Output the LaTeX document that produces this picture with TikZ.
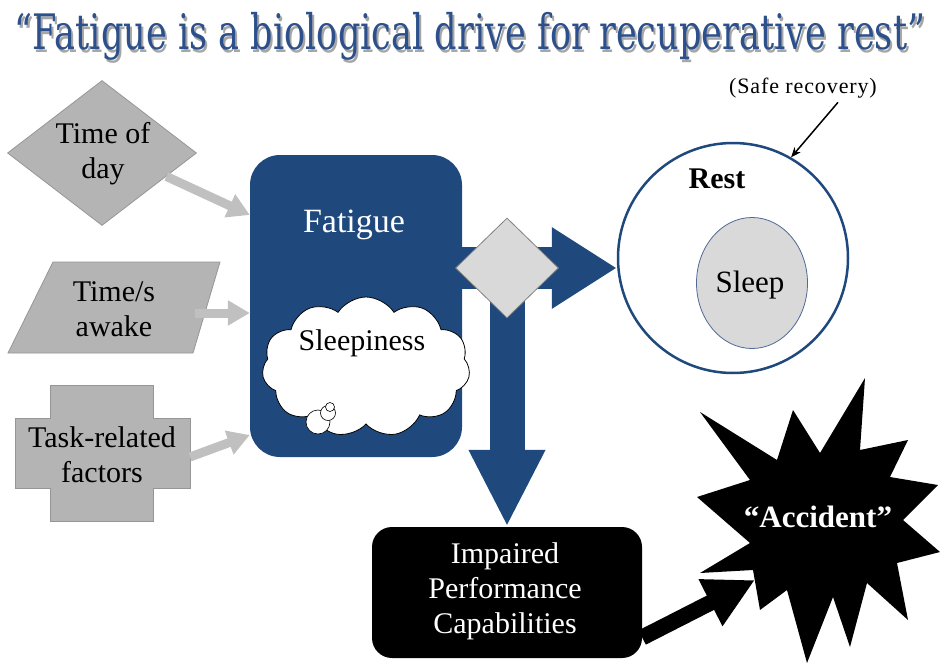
\documentclass[tikz,border=0pt]{standalone}
\usepackage{graphicx}
\usepackage{fontspec}
\setmainfont{Liberation Serif}
\newfontfamily\titlefont{DejaVu Serif}
\usetikzlibrary{shapes.geometric,shapes.symbols,arrows.meta,calc}
\definecolor{fatblue}{RGB}{31,73,125}
\definecolor{titleblue}{RGB}{44,80,140}
\definecolor{shapegray}{RGB}{180,180,180}
\definecolor{shapeedge}{RGB}{150,150,150}
\definecolor{arrowgray}{RGB}{192,192,192}
\definecolor{lightgray2}{RGB}{217,217,217}
\definecolor{sleepedge}{RGB}{80,105,150}
\begin{document}
\begin{tikzpicture}[x=1pt,y=-1pt,
  txt/.style={inner sep=0pt,align=center,font=\fontsize{30}{35}\selectfont},
  grayshape/.style={fill=shapegray,draw=shapeedge,line width=0.8pt},
  grayarrow/.style={draw=arrowgray,line width=9pt,-{Triangle[length=22pt,width=24pt]}},
  bluearrow/.style={draw=fatblue,-{Triangle[length=65pt,width=77pt]}},
]
\useasboundingbox (0,0) rectangle (940,669);

% title (with its grey drop shadow)
\node[inner sep=0pt] (titleshadow) at (472,39) {\resizebox*{910pt}{48pt}{\titlefont\color{black!35}“Fatigue is a biological drive for recuperative rest”}};
\node[inner sep=0pt] (title) at (470,36) {\resizebox*{910pt}{48pt}{\titlefont\color{titleblue}“Fatigue is a biological drive for recuperative rest”}};

% left inputs
\node[diamond,grayshape,minimum width=189pt,minimum height=145pt,inner sep=0pt] (tod) at (102,153) {};
\node[txt] (todl) at (103,154) {Time of\\day};

\filldraw[grayshape] (53,262) -- (220,262) -- (193,353) -- (8,353) -- cycle;
\node[txt] (awk) at (114,309) {Time/s\\awake};
\coordinate (awkout) at (195,313);

\filldraw[grayshape] (50,385) -- (153,385) -- (153,418) -- (190,418) -- (190,488) -- (153,488) -- (153,521) -- (50,521) -- (50,488) -- (15,488) -- (15,418) -- (50,418) -- cycle;
\node[txt] (task) at (102,455) {Task-related\\factors};
\coordinate (taskout) at (190,457);

% fatigue box
\node[rectangle,rounded corners=30pt,fill=fatblue,minimum width=212pt,minimum height=302pt,inner sep=0pt] (fat) at (356,306) {};
\node[txt,text=white,font=\fontsize{34}{40}\selectfont] (fatl) at (354,225) {Fatigue};
\node[cloud,cloud puffs=11,cloud puff arc=115,aspect=1.5,draw=black,fill=white,line width=0.8pt,minimum width=208pt,minimum height=140pt,inner sep=0pt] (cloud) at (366,367) {};
\node[circle,draw=black,fill=white,line width=0.6pt,minimum size=24pt,inner sep=0pt] (b1) at (318,422) {};
\node[circle,draw=black,fill=white,line width=0.6pt,minimum size=15pt,inner sep=0pt] (b2) at (328,413) {};
\node[circle,draw=black,fill=white,line width=0.6pt,minimum size=9pt,inner sep=0pt] (b3) at (330,407) {};
\node[txt] (sleepi) at (362,343) {Sleepiness};

% gray arrows
\draw[grayarrow] (tod.-20) -- ([yshift=91pt]fat.west);
\draw[grayarrow] (awkout) -- ([yshift=-7pt]fat.west);
\draw[grayarrow] (taskout) -- ([yshift=-129pt]fat.west);

% rest
\node[circle,draw=fatblue,line width=2.5pt,fill=white,minimum size=230pt,inner sep=0pt] (rest) at (733,258) {};
\node[txt,font=\bfseries\fontsize{30}{35}\selectfont] (restl) at (717,179) {Rest};
\node[ellipse,draw=sleepedge,line width=0.8pt,fill=lightgray2,minimum width=111pt,minimum height=131pt,inner sep=0pt] (sleep) at (752,283) {};
\node[txt,font=\fontsize{31}{35}\selectfont] (sleepl) at (750,285) {Sleep};
\node[txt,font=\fontsize{22}{26}\addfontfeatures{LetterSpace=4}\selectfont] (safe) at (803,88) {(Safe recovery)};
\draw[line width=1.5pt,-{Stealth[length=10pt,width=8pt]}] ([xshift=35pt,yshift=-4pt]safe.south) -- (rest.60);

% impaired box
\node[rectangle,rounded corners=20pt,fill=black,minimum width=270pt,minimum height=131pt,inner sep=0pt] (imp) at (507,592.5) {};
\node[txt,text=white] (impl) at (505,591) {Impaired\\Performance\\Capabilities};

% middle diamond and blue arrows
\node[diamond,minimum width=103pt,minimum height=100pt,inner sep=0pt] (dia) at (507,268) {};
\draw[bluearrow,line width=42pt] (fat.east |- dia.center) -- (dia.center -| rest.west);
\draw[bluearrow,line width=35pt,-{Triangle[length=77pt,width=71pt]}] (dia.center) -- (dia.center |- imp.north);
\node[diamond,fill=lightgray2,draw=black!50,line width=0.8pt,minimum width=103pt,minimum height=100pt,inner sep=0pt] (dia2) at (dia) {};

% accident star
\fill[black] (700,412) -- (777,460) -- (793,410) -- (820,453) -- (865,378) -- (860,450) -- (908,440) -- (890,477) -- (938,485) -- (903,520) -- (940,552) -- (897,563) -- (908,620) -- (867,583) -- (850,647) -- (833,597) -- (807,663) -- (787,590) -- (760,610) -- (753,570) -- (700,573) -- (750,543) -- (697,497) -- (750,480) -- cycle;
\node[txt,text=white,font=\bfseries\fontsize{31}{35}\selectfont] (acc) at (818,517) {“Accident”};
\coordinate (acctip) at (755,580);
\draw[line width=16pt,-{Triangle[length=50pt,width=49pt]}] ([yshift=-45pt]imp.east) -- (acctip);
\end{tikzpicture}
\end{document}
